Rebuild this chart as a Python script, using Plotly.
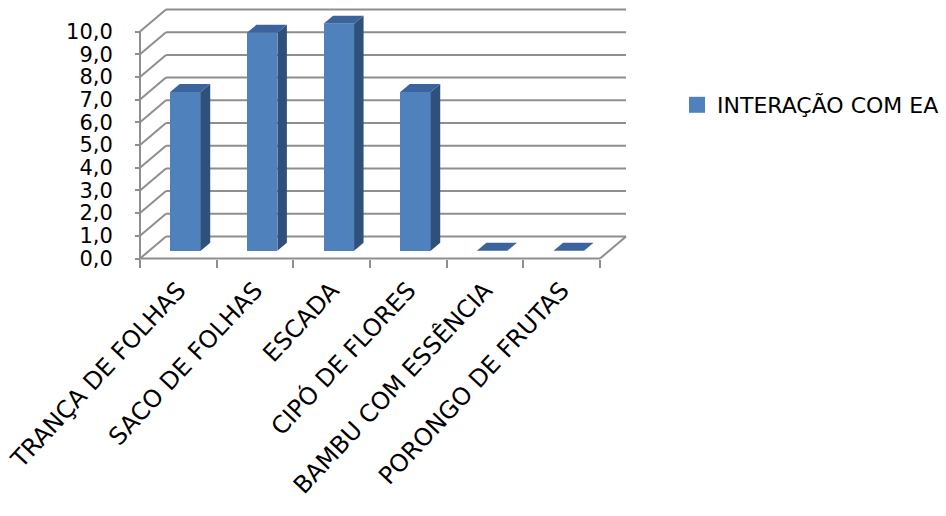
import plotly.graph_objects as go

# ---------------- data ----------------
categories = ["TRANÇA DE FOLHAS", "SACO DE FOLHAS", "ESCADA",
              "CIPÓ DE FLORES", "BAMBU COM ESSÊNCIA", "PORONGO DE FRUTAS"]
values = [7.0, 9.6, 10.0, 7.0, 0.0, 0.0]
series_name = "INTERAÇÃO COM EA"
y_tick_values = [0, 1, 2, 3, 4, 5, 6, 7, 8, 9, 10]
y_tick_labels = ["0,0", "1,0", "2,0", "3,0", "4,0", "5,0",
                 "6,0", "7,0", "8,0", "9,0", "10,0"]

# ---------------- geometry (pseudo-3D) ----------------
W, H = 946, 516
PX_X = 76.67          # pixels per category
PX_Y = 22.7           # pixels per value unit
X0_PX, Y0_PX = 140, 258.5
plot_left, plot_right, plot_top, plot_bottom = 130, 640, 5, 270
x_range = [(plot_left - X0_PX) / PX_X, (plot_right - X0_PX) / PX_X]
y_range = [-(plot_bottom - Y0_PX) / PX_Y, (Y0_PX - plot_top) / PX_Y]

DX = 26 / PX_X        # depth offset of back wall (x units)
DY = 22 / PX_Y        # depth offset of back wall (y units)
BAR_OFF = 0.593       # bar front-face centre within category
BAR_W = 0.398
BAR_BASE = 0.34       # front-face base (depth)
BDX = 9.5 / PX_X      # bar depth
BDY = 8.0 / PX_Y

FRONT = "#4F81BD"
SIDE = "#30507C"
TOP = "#3C649C"
GRID = "#8E8E8E"
n = len(categories)

fig = go.Figure()

# front faces
centres = [i + BAR_OFF for i in range(n)]
fig.add_trace(go.Bar(x=centres, y=values, base=[BAR_BASE] * n, width=BAR_W,
                     marker=dict(color=FRONT, line=dict(width=0)),
                     showlegend=False, hoverinfo="skip"))

# side and top faces
for c, v in zip(centres, values):
    xl, xr = c - BAR_W / 2, c + BAR_W / 2
    b = BAR_BASE
    if v > 0:
        fig.add_trace(go.Scatter(
            x=[xr, xr + BDX, xr + BDX, xr, xr],
            y=[b, b + BDY, b + v + BDY, b + v, b],
            fill="toself", fillcolor=SIDE, mode="lines",
            line=dict(width=0, color=SIDE), showlegend=False, hoverinfo="skip"))
    fig.add_trace(go.Scatter(
        x=[xl, xl + BDX, xr + BDX, xr, xl],
        y=[b + v, b + v + BDY, b + v + BDY, b + v, b + v],
        fill="toself", fillcolor=TOP, mode="lines",
        line=dict(width=0, color=TOP), showlegend=False, hoverinfo="skip"))

# legend entry
fig.add_trace(go.Scatter(x=[None], y=[None], mode="markers", name=series_name,
                         marker=dict(symbol="square", size=16, color=FRONT)))

# walls / gridlines
shapes = []
ln = dict(color=GRID, width=2)
shapes.append(dict(type="line", x0=0, y0=0, x1=0, y1=y_tick_values[-1],
                   xref="x", yref="y", line=ln, layer="below"))
for v in y_tick_values:
    shapes.append(dict(type="line", x0=0, y0=v, x1=DX, y1=v + DY,
                       xref="x", yref="y", line=ln, layer="below"))
    shapes.append(dict(type="line", x0=DX, y0=v + DY, x1=n + DX, y1=v + DY,
                       xref="x", yref="y", line=ln, layer="below"))
shapes.append(dict(type="line", x0=0, y0=0, x1=n, y1=0,
                   xref="x", yref="y", line=ln, layer="below"))
shapes.append(dict(type="line", x0=n, y0=0, x1=n + DX, y1=DY,
                   xref="x", yref="y", line=ln, layer="below"))

FONT = "DejaVu Sans"
fig.update_layout(
    width=W, height=H,
    margin=dict(l=plot_left, r=W - plot_right, t=plot_top, b=H - plot_bottom,
                autoexpand=False),
    paper_bgcolor="white", plot_bgcolor="white",
    shapes=shapes,
    showlegend=True,
    legend=dict(x=(677 - plot_left) / (plot_right - plot_left),
                y=(plot_bottom - 105) / (plot_bottom - plot_top),
                xanchor="left", yanchor="middle",
                font=dict(family=FONT, size=22, color="black"),
                bgcolor="rgba(0,0,0,0)"),
    xaxis=dict(range=x_range, anchor="free",
               position=(plot_bottom - Y0_PX) / (plot_bottom - plot_top),
               tickmode="array", tickvals=[i + 0.5 for i in range(n)],
               ticktext=categories, ticks="", tickangle=-47,
               tickfont=dict(family=FONT, size=24, color="black"),
               ticklabelstandoff=12,
               minor=dict(tickmode="array", tickvals=list(range(n + 1)),
                          ticks="outside", ticklen=8, tickwidth=2,
                          tickcolor=GRID, showgrid=False),
               showgrid=False, zeroline=False, showline=False,
               automargin=False, fixedrange=True),
    yaxis=dict(range=y_range, anchor="free",
               position=(X0_PX - plot_left) / (plot_right - plot_left),
               tickmode="array", tickvals=y_tick_values, ticktext=y_tick_labels,
               ticks="outside", ticklen=5, tickwidth=2, tickcolor=GRID,
               tickfont=dict(family=FONT, size=21, color="black"),
               ticklabelstandoff=18,
               showgrid=False, zeroline=False, showline=False,
               automargin=False, fixedrange=True),
    bargap=0,
)

fig.write_html("out.html")
